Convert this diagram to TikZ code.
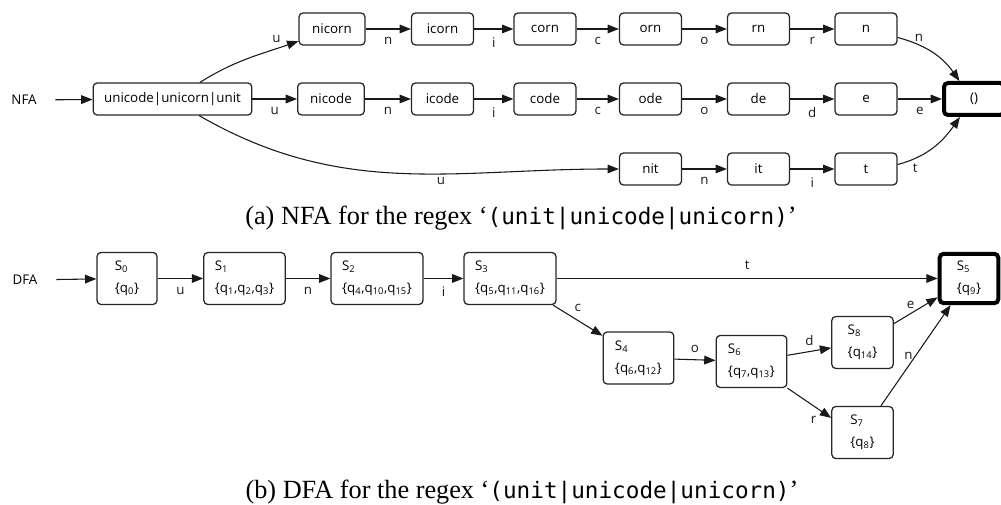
\documentclass[tikz,border=0pt]{standalone}
\usepackage{fontspec}
\setmainfont{Liberation Serif}
\setmonofont{DejaVu Sans Mono}
\newfontfamily\diagfont{Open Sans}
\usetikzlibrary{arrows.meta,positioning}

\begin{document}
\begin{tikzpicture}[
  x=0.75pt, y=0.75pt,
  >={Triangle[length=8.5pt,width=6.5pt]},
  st/.style={draw=black!85, line width=0.95pt, rounded corners=3pt, minimum width=46.5pt,
    minimum height=24pt, inner sep=2pt, font=\diagfont\fontsize{10}{12}\selectfont},
  ds/.style={st, minimum height=39pt, align=left, font=\diagfont\fontsize{10}{16.5}\selectfont},
  fin/.style={line width=3pt, draw=black},
  sym/.style={font=\diagfont\fontsize{10}{12}\selectfont, inner sep=0pt},
  tr/.style={->, line width=0.8pt, black!90},
  captext/.style={font=\fontsize{19.7}{24}\selectfont},
]
\useasboundingbox (0,0) rectangle (1001,505);
% ---- NFA ----
\node[sym] (nfa) at (24,405) {NFA};
\node[st, minimum width=119pt] (src) at (172.5,406) {unicode|unicorn|unit};
% unicorn branch
\node[st, minimum width=49.5pt] (r1) at (332,476) {nicorn};
\node[st] (r2) at (442.5,476) {icorn};
\node[st] (r3) at (545,476) {corn};
\node[st] (r4) at (650.5,476) {orn};
\node[st] (r5) at (758.5,476) {rn};
\node[st] (r6) at (866,476) {n};
% unicode branch
\node[st, minimum width=50pt] (d1) at (331,406) {nicode};
\node[st] (d2) at (442.5,406) {icode};
\node[st] (d3) at (545,406) {code};
\node[st] (d4) at (650.5,406) {ode};
\node[st] (d5) at (758.5,406) {de};
\node[st] (d6) at (866,406) {e};
% unit branch
\node[st] (t1) at (650.5,336) {nit};
\node[st] (t2) at (758.5,336) {it};
\node[st] (t3) at (866,336) {t};
% accepting state
\node[st, fin, minimum width=45pt] (acc) at (974,406) {()};
% edges
\draw[tr, shorten <=14pt] (nfa) -- (src);
\draw[tr] ([xshift=20.6pt]src.north) to[out=32,in=199] node[sym, pos=0.8, above=4pt] {u} (r1.200);
\draw[tr] (src) -- node[sym, below=6pt] {u} (d1);
\draw[tr] ([xshift=20pt]src.south) to[out=-30,in=180] node[sym, pos=0.6, below=2pt] {u} (t1);
\draw[tr] (r1) -- node[sym, below=6pt] {n} (r2);
\draw[tr] (r2) -- node[sym, below=6pt] {i} (r3);
\draw[tr] (r3) -- node[sym, below=6pt] {c} (r4);
\draw[tr] (r4) -- node[sym, below=6pt] {o} (r5);
\draw[tr] (r5) -- node[sym, below=6pt] {r} (r6);
\draw[tr] (d1) -- node[sym, below=6pt] {n} (d2);
\draw[tr] (d2) -- node[sym, below=6pt] {i} (d3);
\draw[tr] (d3) -- node[sym, below=6pt] {c} (d4);
\draw[tr] (d4) -- node[sym, below=6pt] {o} (d5);
\draw[tr] (d5) -- node[sym, below=6pt] {d} (d6);
\draw[tr] (t1) -- node[sym, below=6pt] {n} (t2);
\draw[tr] (t2) -- node[sym, below=6pt] {i} (t3);
\draw[tr] (r6.-15) to[out=-15,in=125] node[sym, pos=0.2, above right=1pt] {n} (acc.129);
\draw[tr] (d6) -- node[sym, below=6pt] {e} (acc);
\draw[tr] (t3.8) to[out=15,in=235] node[sym, pos=0.22, below=4pt] {t} (acc.232);
\node[captext] (capa) at (521,287)
  {(a) NFA for the regex ‘\texttt{\fontsize{17}{24}\selectfont(unit|unicode|unicorn)}’};
% ---- DFA ----
\node[sym] (dfa) at (25,225) {DFA};
\node[ds, minimum width=45pt] (S0) at (127,226.5) {S\textsubscript{0}\\\{q\textsubscript{0}\}};
\node[ds, minimum width=61pt] (S1) at (244.5,226.5)
  {S\textsubscript{1}\\\{q\textsubscript{1},q\textsubscript{2},q\textsubscript{3}\}};
\node[ds, minimum width=69pt] (S2) at (377,226.5)
  {S\textsubscript{2}\\\{q\textsubscript{4},q\textsubscript{10},q\textsubscript{15}\}};
\node[ds, minimum width=69pt] (S3) at (510,226.5)
  {S\textsubscript{3}\\\{q\textsubscript{5},q\textsubscript{11},q\textsubscript{16}\}};
\node[ds, minimum width=53pt] (S4) at (638.5,147) {S\textsubscript{4}\\\{q\textsubscript{6},q\textsubscript{12}\}};
\node[ds, minimum width=53pt] (S6) at (751.5,143.5) {S\textsubscript{6}\\\{q\textsubscript{7},q\textsubscript{13}\}};
\node[ds, minimum width=46pt] (S8) at (862.5,162.5) {S\textsubscript{8}\\\{q\textsubscript{14}\}};
\node[ds, minimum width=46pt] (S7) at (862.5,72.5) {S\textsubscript{7}\\\{q\textsubscript{8}\}};
\node[ds, fin, minimum width=44pt, minimum height=37pt] (S5) at (969,226.5)
  {S\textsubscript{5}\\\{q\textsubscript{9}\}};
% transitions
\draw[tr, shorten <=14pt] (dfa) -- (S0);
\draw[tr] (S0) -- node[sym, below=6pt] {u} (S1);
\draw[tr] (S1) -- node[sym, below=6pt] {n} (S2);
\draw[tr] (S2) -- node[sym, below=6pt] {i} (S3);
\draw[tr] (S3) -- node[sym, above=6pt] {t} (S5);
\draw[tr] (S3) -- node[sym, above=6pt] {c} (S4);
\draw[tr] (S4) -- node[sym, above=5pt] {o} (S6);
\draw[tr] (S6) -- node[sym, above=4pt] {d} (S8);
\draw[tr] (S6.south east) -- node[sym, pos=0.6, below=7pt] {r} (S7.155);
\draw[tr] (S8) -- node[sym, above left=1pt] {e} (S5);
\draw[tr] (S7) -- node[sym, left=2pt] {n} (S5);
\node[captext] (capb) at (522,13)
  {(b) DFA for the regex ‘\texttt{\fontsize{17}{24}\selectfont(unit|unicode|unicorn)}’};
\end{tikzpicture}
\end{document}
